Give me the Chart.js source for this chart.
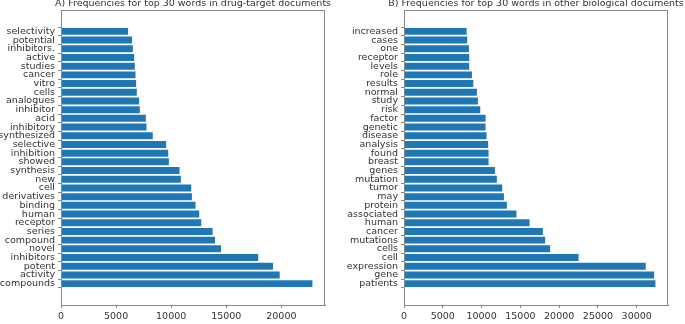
<!DOCTYPE html>
<html>
<head>
<meta charset="utf-8">
<script src="https://cdn.jsdelivr.net/npm/chart.js@4.4.1/dist/chart.umd.min.js"></script>
<style>
  body { margin: 0; background: #fff; width: 685px; height: 324px; position: relative; overflow: hidden; }
  canvas { position: absolute; top: 0; }
</style>
</head>
<body>
<canvas id="left" width="338" height="324" style="left:0px"></canvas>
<canvas id="right" width="345" height="324" style="left:340px"></canvas>
<script>
// words listed from the bottom bar up (matplotlib barh order)
const drugWords = ["compounds", "activity", "potent", "inhibitors", "novel", "compound", "series", "receptor",
  "human", "binding", "derivatives", "cell", "new", "synthesis", "showed", "inhibition", "selective",
  "synthesized", "inhibitory", "acid", "inhibitor", "analogues", "cells", "vitro", "cancer", "studies",
  "active", "inhibitors.", "potential", "selectivity"];
const drugCounts = [22820, 19850, 19240, 17900, 14520, 13980, 13760, 12730, 12545, 12210, 11880, 11820,
  10880, 10760, 9790, 9730, 9545, 8330, 7760, 7700, 7150, 7090, 6880, 6820, 6760, 6700, 6640, 6520, 6450, 6090];

const bioWords = ["patients", "gene", "expression", "cell", "cells", "mutations", "cancer", "human",
  "associated", "protein", "may", "tumor", "mutation", "genes", "breast", "found", "analysis", "disease",
  "genetic", "factor", "risk", "study", "normal", "results", "role", "levels", "receptor", "one", "cases", "increased"];
const bioCounts = [32410, 32240, 31160, 22500, 18840, 18200, 17900, 16180, 14500, 13260, 12880, 12660,
  11970, 11720, 10900, 10900, 10850, 10640, 10515, 10515, 9830, 9530, 9400, 8930, 8755, 8410, 8410, 8370, 8150, 8070];

const drugTicks = [0, 5000, 10000, 15000, 20000];
const bioTicks = [0, 5000, 10000, 15000, 20000, 25000, 30000];

const titleA = "A) Frequencies for top 30 words in drug-target documents";
const titleB = "B) Frequencies for top 30 words in other biological documents";

const textColor = "#333";
const spineColor = "#888";
const font = { family: "DejaVu Sans", size: 9.5 };

// box around plot + title text
const frame = {
  id: "frame",
  afterDraw(chart, args, opts) {
    const { ctx, chartArea: a } = chart;
    ctx.save();
    ctx.strokeStyle = spineColor;
    ctx.lineWidth = 1;
    ctx.strokeRect(a.left + 0.5, a.top + 0.5, a.right - a.left - 1, a.bottom - a.top);
    ctx.fillStyle = textColor;
    ctx.font = "9.5px 'DejaVu Sans'";
    ctx.textAlign = "center";
    ctx.textBaseline = "middle";
    ctx.fillText(opts.text, (a.left + a.right) / 2, 4);
    ctx.restore();
  }
};

function makeChart(id, words, counts, ticks, title, axisWidth, padRight) {
  const n = words.length;
  new Chart(document.getElementById(id), {
    type: "bar",
    data: {
      datasets: [{
        data: counts.map((c, i) => ({ x: c, y: i })),
        backgroundColor: "#1f77b4",
        borderWidth: 0,
        barPercentage: 0.8,
        categoryPercentage: 1.0
      }]
    },
    options: {
      indexAxis: "y",
      responsive: false,
      animation: false,
      devicePixelRatio: 1,
      layout: { padding: { top: 10, right: padRight, left: 0, bottom: 0 } },
      plugins: { legend: { display: false }, tooltip: { enabled: false }, frame: { text: title } },
      scales: {
        x: {
          type: "linear",
          min: 0,
          max: Math.max(...counts) * 1.05,
          afterBuildTicks: s => { s.ticks = ticks.map(v => ({ value: v })); },
          afterFit: s => { s.height = 19; },
          grid: { drawOnChartArea: false, tickLength: 3, tickColor: spineColor },
          border: { color: spineColor },
          ticks: { color: textColor, font: font, padding: 3, maxRotation: 0, callback: v => String(v) }
        },
        y: {
          type: "linear",
          min: -0.4 - 0.05 * (n - 0.2),
          max: n - 0.6 + 0.05 * (n - 0.2),
          afterBuildTicks: s => { s.ticks = words.map((w, i) => ({ value: i })); },
          afterFit: s => { s.width = axisWidth; },
          grid: { drawOnChartArea: false, tickLength: 3, tickColor: spineColor },
          border: { color: spineColor },
          ticks: { color: textColor, font: font, padding: 3, autoSkip: false, callback: v => words[v] }
        }
      }
    },
    plugins: [frame]
  });
}

makeChart("left", drugWords, drugCounts, drugTicks, titleA, 61, 13);
makeChart("right", bioWords, bioCounts, bioTicks, titleB, 64, 17);
</script>
</body>
</html>
